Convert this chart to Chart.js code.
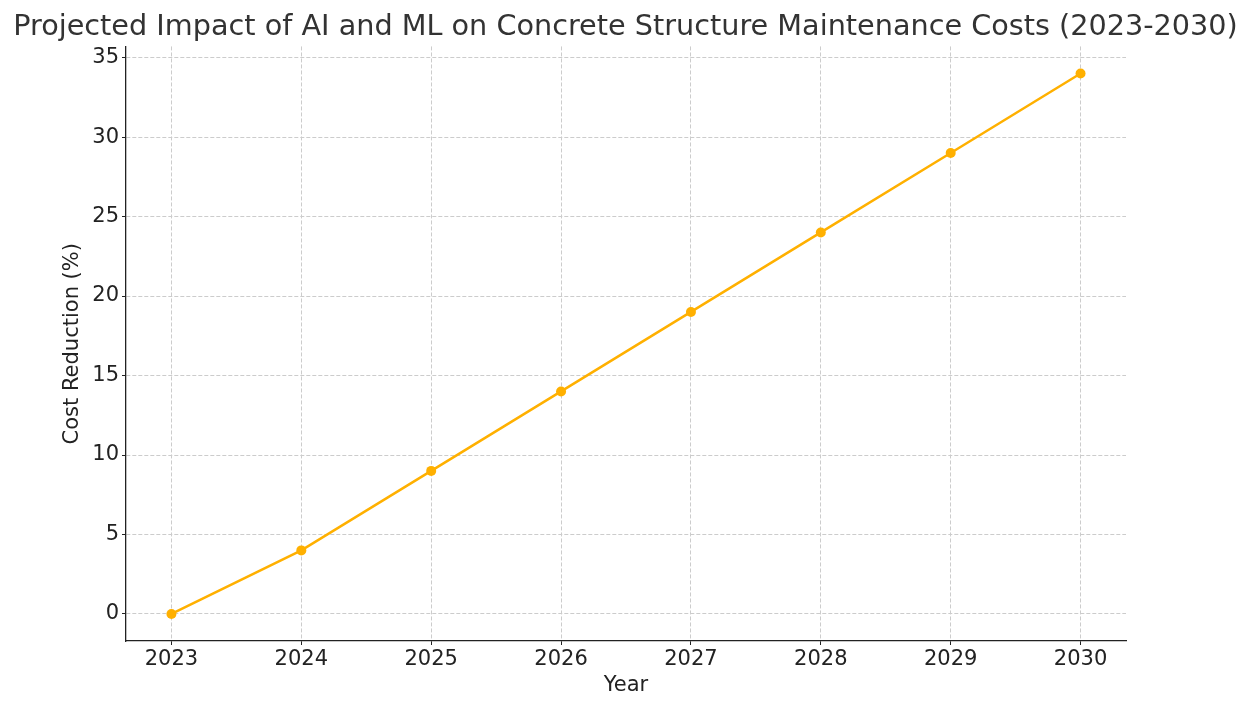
<!DOCTYPE html>
<html lang="en">
<head>
  <meta charset="UTF-8" />
  <title>Projected Impact of AI and ML on Concrete Structure Maintenance Costs</title>
  <script src="https://cdn.jsdelivr.net/npm/chart.js"></script>
  <style>
    html, body { margin: 0; padding: 0; background: #fff; }
    #wrap { width: 1251px; height: 710px; }
  </style>
</head>
<body>
  <div id="wrap"><canvas id="chart"></canvas></div>

  <script>
    const years = [2023, 2024, 2025, 2026, 2027, 2028, 2029, 2030];
    const costReduction = [0, 4, 9, 14, 19, 24, 29, 34];
    const yTicks = [0, 5, 10, 15, 20, 25, 30, 35];

    const lineColor = "#ffb000";
    const gridColor = "#cccccc";
    const axisColor = "#222222";
    const font = "'DejaVu Sans', sans-serif";

    new Chart(document.getElementById("chart").getContext("2d"), {
      type: "line",
      data: {
        datasets: [{
          label: "Cost Reduction (%)",
          data: years.map((y, i) => ({ x: y, y: costReduction[i] })),
          borderColor: lineColor,
          backgroundColor: lineColor,
          borderWidth: 2.5,
          pointRadius: 5,
          pointHoverRadius: 5,
          pointBorderWidth: 0,
          fill: false,
          tension: 0
        }]
      },
      options: {
        responsive: true,
        maintainAspectRatio: false,
        animation: false,
        layout: { padding: 0 },
        plugins: {
          legend: { display: false },
          tooltip: { enabled: false },
          title: {
            display: true,
            text: "Projected Impact of AI and ML on Concrete Structure Maintenance Costs (2023-2030)",
            color: "#333333",
            font: { family: font, size: 28.7, weight: "normal" },
            padding: { top: 10, bottom: 2 }
          }
        },
        scales: {
          x: {
            type: "linear",
            min: 2022.65,
            max: 2030.35,
            afterBuildTicks: axis => { axis.ticks = years.map(v => ({ value: v })); },
            afterFit: axis => { axis.height = 69; },
            ticks: {
              color: axisColor,
              font: { family: font, size: 21 },
              padding: 2,
              maxRotation: 0,
              callback: v => String(v)
            },
            grid: {
              color: gridColor,
              lineWidth: 1,
              tickLength: 4,
              tickColor: axisColor,
              tickBorderDash: []
            },
            border: { display: true, color: axisColor, width: 1.3, dash: [4, 2] },
            title: {
              display: true,
              text: "Year",
              color: axisColor,
              font: { family: font, size: 21 },
              padding: { top: 0, bottom: 12 }
            }
          },
          y: {
            type: "linear",
            min: -1.7,
            max: 35.7,
            afterBuildTicks: axis => { axis.ticks = yTicks.map(v => ({ value: v })); },
            afterFit: axis => { axis.width = 126; },
            ticks: {
              color: axisColor,
              font: { family: font, size: 21 },
              padding: 3,
              callback: v => String(v)
            },
            grid: {
              color: gridColor,
              lineWidth: 1,
              tickLength: 4,
              tickColor: axisColor,
              tickBorderDash: []
            },
            border: { display: true, color: axisColor, width: 1.3, dash: [4, 2] },
            title: {
              display: true,
              text: "Cost Reduction (%)",
              color: axisColor,
              font: { family: font, size: 21 },
              padding: { top: 60, bottom: 0 }
            }
          },
          // empty right-hand axis that only reserves the right margin
          yRight: {
            type: "linear",
            position: "right",
            display: true,
            afterFit: axis => { axis.width = 125; },
            ticks: { display: false },
            grid: { display: false, drawOnChartArea: false },
            border: { display: false },
            title: { display: false }
          }
        }
      }
    });
  </script>
</body>
</html>
